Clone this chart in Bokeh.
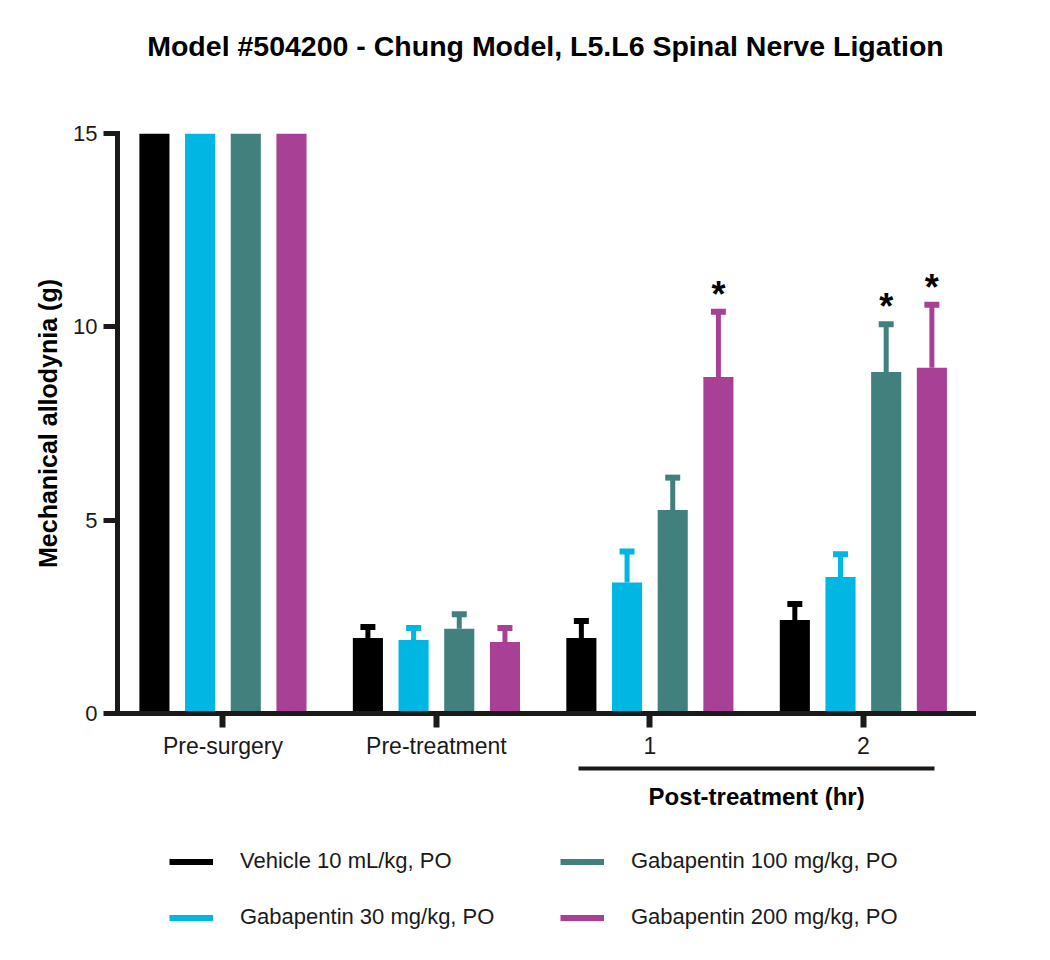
from bokeh.plotting import figure
from bokeh.layouts import column
from bokeh.models import (ColumnDataSource, Range1d, FixedTicker, Whisker, TeeHead,
                          Legend, LegendItem, LinearAxis, Title)
from bokeh.core.properties import value
from bokeh.embed import file_html
from bokeh.resources import INLINE

# ---------------- data ----------------
groups = ["Pre-surgery", "Pre-treatment", "1", "2"]
series = ["Vehicle 10 mL/kg, PO", "Gabapentin 30 mg/kg, PO",
          "Gabapentin 100 mg/kg, PO", "Gabapentin 200 mg/kg, PO"]
vehicle = [15, 1.95, 1.95, 2.42]
vehicle_err = [0, 0.29, 0.44, 0.41]
gaba30 = [15, 1.90, 3.39, 3.53]
gaba30_err = [0, 0.31, 0.80, 0.59]
gaba100 = [15, 2.19, 5.26, 8.83]
gaba100_err = [0, 0.38, 0.84, 1.24]
gaba200 = [15, 1.85, 8.70, 8.94]
gaba200_err = [0, 0.36, 1.69, 1.63]
sig_vehicle = [False, False, False, False]
sig_gaba30 = [False, False, False, False]
sig_gaba100 = [False, False, False, True]
sig_gaba200 = [False, False, True, True]
y_ticks = [0, 5, 10, 15]
bracket_groups = ["1", "2"]
bracket_label = "Post-treatment (hr)"
title_text = "Model #504200 - Chung Model, L5.L6 Spinal Nerve Ligation"
y_label = "Mechanical allodynia (g)"

colors = ["#000000", "#00b6e3", "#41807c", "#a84096"]
axis_col = "#1a1a1a"
FONT = "Liberation Sans"

means = [vehicle, gaba30, gaba100, gaba200]
errs = [vehicle_err, gaba30_err, gaba100_err, gaba200_err]
sigs = [sig_vehicle, sig_gaba30, sig_gaba100, sig_gaba200]

offsets = [-0.321, -0.107, 0.107, 0.321]
bar_w = 0.141

W = 1034
H_MAIN = 830
H_LEG = 114

p = figure(width=W, height=H_MAIN, output_backend="svg", toolbar_location=None,
           x_range=Range1d(-0.494, 3.516), y_range=Range1d(0, 15),
           min_border_left=117, min_border_right=61, min_border_top=133,
           min_border_bottom=H_MAIN - 713)
p.outline_line_color = None
p.xgrid.visible = False
p.ygrid.visible = False
p.background_fill_color = "white"

# title (outermost) + spacer between title and frame
p.title.text = title_text
p.title.align = "center"
p.title.text_font = FONT
p.title.text_font_size = "28.5px"
p.title.text_font_style = "bold"
p.title.text_color = "#000000"
p.title.standoff = 10
p.add_layout(Title(text=" ", text_font_size="2px", standoff=63), "above")

gidx = list(range(len(groups)))
for k in range(4):
    xs = [g + offsets[k] for g in gidx]
    src = ColumnDataSource(dict(x=xs, top=means[k]))
    p.vbar(x="x", top="top", width=bar_w, bottom=0, source=src,
           fill_color=colors[k], line_color=None)
    # error bars (upper only)
    ex = [x for x, e in zip(xs, errs[k]) if e > 0]
    lo = [m for m, e in zip(means[k], errs[k]) if e > 0]
    up = [m + e for m, e in zip(means[k], errs[k]) if e > 0]
    wsrc = ColumnDataSource(dict(base=ex, lower=lo, upper=up))
    w = Whisker(source=wsrc, base="base", lower="lower", upper="upper",
                dimension="height", line_color=colors[k], line_width=5,
                upper_head=TeeHead(size=15, line_width=6, line_color=colors[k]),
                lower_head=None)
    p.add_layout(w)
    # significance
    sx = [x for x, s in zip(xs, sigs[k]) if s]
    sy = [m + e for m, e, s in zip(means[k], errs[k], sigs[k]) if s]
    if sx:
        tsrc = ColumnDataSource(dict(x=sx, y=sy, t=["*"] * len(sx)))
        p.text(x="x", y="y", text="t", source=tsrc, text_align="center",
               text_baseline="top", y_offset=-38, text_font=value(FONT),
               text_font_style="bold", text_font_size="36px", text_color="#000000")

# y axis
ya = p.yaxis[0]
ya.ticker = FixedTicker(ticks=y_ticks)
ya.axis_label = y_label
ya.axis_label_text_font = FONT
ya.axis_label_text_font_style = "bold"
ya.axis_label_text_font_size = "25px"
ya.axis_label_text_color = "#000000"
ya.axis_label_standoff = 8
ya.major_label_text_font = FONT
ya.major_label_text_font_size = "22px"
ya.major_label_text_color = axis_col
ya.major_label_standoff = 6
ya.axis_line_width = 5
ya.axis_line_color = axis_col
ya.axis_line_cap = "square"
ya.major_tick_line_width = 5
ya.major_tick_line_color = axis_col
ya.major_tick_out = 14
ya.major_tick_in = 0
ya.minor_tick_out = 0
ya.minor_tick_in = 0

# x axis
xa = p.xaxis[0]
xa.ticker = FixedTicker(ticks=gidx)
xa.major_label_overrides = {i: g for i, g in enumerate(groups)}
xa.major_label_text_font = FONT
xa.major_label_text_font_size = "23px"
xa.major_label_text_color = axis_col
xa.major_label_standoff = 5
xa.axis_line_width = 5
xa.axis_line_color = axis_col
xa.axis_line_cap = "square"
xa.major_tick_line_width = 6
xa.major_tick_line_color = axis_col
xa.major_tick_out = 14
xa.major_tick_in = 0
xa.minor_tick_out = 0
xa.minor_tick_in = 0
xa.axis_label = " "
xa.axis_label_text_font_size = "2px"
xa.axis_label_standoff = 2

# bracket for post-treatment groups: a bounded axis below the main one
i0 = groups.index(bracket_groups[0])
i1 = groups.index(bracket_groups[1])
mid = (i0 + i1) / 2
bracket = LinearAxis(bounds=(i0 - 0.333, i1 + 0.333), ticker=FixedTicker(ticks=[mid]),
                     major_label_overrides={mid: bracket_label},
                     major_label_text_font=FONT, major_label_text_font_style="bold",
                     major_label_text_font_size="24px", major_label_text_color="#000000",
                     major_label_standoff=14, major_tick_out=0, major_tick_in=0,
                     minor_tick_out=0, minor_tick_in=0,
                     axis_line_width=4, axis_line_color=axis_col)
p.add_layout(bracket, "below")

# ---------------- legend (separate strip below) ----------------
leg = figure(width=W, height=H_LEG, output_backend="svg", toolbar_location=None,
             x_range=Range1d(0, 1), y_range=Range1d(0, 1),
             x_axis_type=None, y_axis_type=None,
             min_border_left=0, min_border_right=0, min_border_top=0,
             min_border_bottom=0)
leg.outline_line_color = None
leg.xgrid.visible = False
leg.ygrid.visible = False
items = []
for k in range(4):
    r = leg.line(x=[float("nan")], y=[float("nan")], line_color=colors[k], line_width=6)
    items.append(LegendItem(label=series[k], renderers=[r]))
legend = Legend(items=items, location=(52, 14), orientation="vertical",
                nrows=2, padding=0, margin=0, spacing=30, glyph_width=44,
                glyph_height=25, label_height=25, label_width=290, label_standoff=27,
                label_text_font=FONT, label_text_font_size="22px",
                label_text_color=axis_col, border_line_color=None,
                background_fill_alpha=0)
leg.add_layout(legend, "center")

layout = column(p, leg, spacing=0)
open("out.html", "w").write(file_html(layout, INLINE))
